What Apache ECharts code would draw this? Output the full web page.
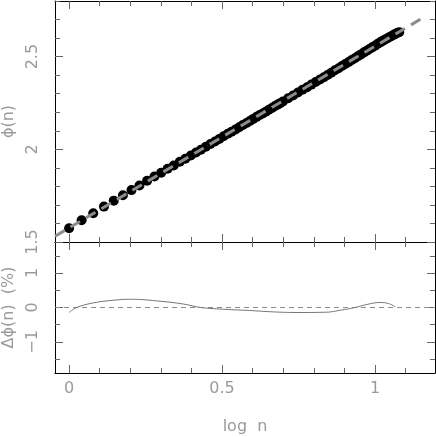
<!DOCTYPE html>
<html>
<head>
<meta charset="utf-8">
<script src="https://cdn.jsdelivr.net/npm/echarts@6/dist/echarts.min.js"></script>
<style>html,body{margin:0;padding:0;background:#fff;}#c{width:436px;height:436px;}</style>
</head>
<body>
<div id="c"></div>
<script>
// ---- data ----
const logN = [0.000,0.041,0.079,0.114,0.146,0.176,0.204,0.230,0.255,0.279,
  0.301,0.322,0.342,0.362,0.380,0.398,0.415,0.431,0.447,0.462,
  0.477,0.491,0.505,0.519,0.531,0.544,0.556,0.568,0.580,0.591,
  0.602,0.613,0.623,0.633,0.643,0.653,0.663,0.672,0.681,0.690,
  0.699,0.716,0.732,0.748,0.763,0.778,0.792,0.806,0.820,0.833,
  0.845,0.857,0.869,0.881,0.892,0.903,0.914,0.924,0.934,0.944,
  0.954,0.964,0.973,0.982,0.991,1.000,1.009,1.017,1.025,1.033,
  1.041,1.049,1.057,1.064,1.072,1.079];
const phi = [1.574,1.617,1.655,1.691,1.723,1.752,1.780,1.805,1.830,1.853,
  1.874,1.895,1.913,1.933,1.949,1.967,1.983,1.998,2.014,2.029,
  2.042,2.056,2.070,2.084,2.095,2.107,2.119,2.131,2.142,2.153,
  2.164,2.175,2.185,2.193,2.203,2.213,2.223,2.232,2.240,2.249,
  2.258,2.275,2.290,2.306,2.321,2.335,2.349,2.363,2.377,2.389,
  2.401,2.413,2.426,2.437,2.449,2.460,2.471,2.482,2.491,2.502,
  2.512,2.523,2.532,2.541,2.550,2.559,2.569,2.577,2.585,2.592,
  2.599,2.607,2.614,2.620,2.627,2.632];
const fitX = [-0.046, 1.163];
const fitY = [1.531, 2.716];
const resX = [0.000,0.025,0.080,0.145,0.200,0.300,0.374,0.430,0.504,0.590,0.668,0.745,0.842,0.886,0.935,0.973,1.016,1.044,1.066];
const resY = [-0.145,0.000,0.135,0.210,0.240,0.180,0.100,0.000,-0.050,-0.087,-0.127,-0.145,-0.136,-0.080,0.000,0.087,0.145,0.116,0.020];
const zeroX = [-0.046, 1.196];
const zeroY = [0, 0];
const xMajor = [0, 0.5, 1];
const xMinor = [0.1,0.2,0.3,0.4,0.6,0.7,0.8,0.9,1.1];
const yTopMajor = [1.5, 2, 2.5];
const yTopMinor = [1.6,1.7,1.8,1.9,2.1,2.2,2.3,2.4,2.6,2.7,2.8];
const yBotMajor = [-1, 0, 1];
const yBotMinor = [-1.5,-0.5,0.5,1.5];
const xLabel = 'log  n';
const yTopLabel = 'ϕ(n)';
const yBotLabel = 'Δϕ(n)  (%)';

// ---- chart ----
const FONT = 'DejaVu Sans';
const TXT = '#9a9a9a';
const TICK = '#666';
const X_RANGE = {min: -0.046, max: 1.196};
const Y_TOP = {min: 1.5, max: 2.8};
const Y_BOT = {min: -1.9, max: 1.9};

function axis(grid, pos, range, ticks, len, line, extra) {
  return Object.assign({
    type: 'value', gridIndex: grid, position: pos,
    min: range.min, max: range.max, scale: true,
    axisLine: {show: line, onZero: false, lineStyle: {color: '#000', width: 1}},
    axisTick: {show: true, inside: true, length: len, customValues: ticks, lineStyle: {color: TICK, width: 1}},
    axisLabel: {show: false},
    splitLine: {show: false}
  }, extra || {});
}

const xAxes = [];
const yAxes = [];
[[0, Y_TOP, yTopMajor, yTopMinor], [1, Y_BOT, yBotMajor, yBotMinor]].forEach(([g, yr, yMaj, yMin]) => {
  const bottomExtra = g === 1 ? {
    axisLabel: {show: true, customValues: xMajor, margin: 8, color: TXT, fontFamily: FONT, fontSize: 16,
      formatter: v => String(v)},
    name: xLabel, nameLocation: 'middle', nameGap: 46,
    nameTextStyle: {color: TXT, fontFamily: FONT, fontSize: 16}
  } : {};
  xAxes.push(axis(g, 'bottom', X_RANGE, xMajor, 8, true, bottomExtra));
  xAxes.push(axis(g, 'bottom', X_RANGE, xMinor, 5, false));
  xAxes.push(axis(g, 'top', X_RANGE, xMajor, 8, true));
  xAxes.push(axis(g, 'top', X_RANGE, xMinor, 5, false));
  const leftExtra = {
    axisLabel: {show: true, customValues: yMaj, rotate: 90, margin: 14, color: TXT, fontFamily: FONT, fontSize: 16,
      formatter: v => (v < 0 ? '\u2212' + Math.abs(v) : String(v))},
    name: g === 0 ? yTopLabel : yBotLabel, nameLocation: 'middle', nameRotate: 90, nameGap: 36,
    nameTextStyle: {color: TXT, fontFamily: FONT, fontSize: 16}
  };
  yAxes.push(axis(g, 'left', yr, yMaj, 8, true, leftExtra));
  yAxes.push(axis(g, 'left', yr, yMin, 5, false));
  yAxes.push(axis(g, 'right', yr, yMaj, 8, true));
  yAxes.push(axis(g, 'right', yr, yMin, 5, false));
});

const chart = echarts.init(document.getElementById('c'), null, {renderer: 'canvas'});
chart.setOption({
  animation: false,
  backgroundColor: '#fff',
  grid: [
    {left: 55, top: 1, width: 380, height: 241, containLabel: false, outerBoundsMode: 'none'},
    {left: 55, top: 242, width: 380, height: 131, containLabel: false, outerBoundsMode: 'none'}
  ],
  xAxis: xAxes,
  yAxis: yAxes,
  series: [
    {type: 'scatter', xAxisIndex: 0, yAxisIndex: 0, symbol: 'circle', symbolSize: 10,
      itemStyle: {color: '#000', opacity: 1}, data: logN.map((x, i) => [x, phi[i]])},
    {type: 'line', xAxisIndex: 0, yAxisIndex: 0, symbol: 'none', clip: true,
      lineStyle: {color: '#8c8c8c', width: 3, type: [11, 7]}, data: fitX.map((x, i) => [x, fitY[i]])},
    {type: 'line', xAxisIndex: 4, yAxisIndex: 4, symbol: 'none',
      lineStyle: {color: '#8c8c8c', width: 1, type: [5, 4]}, data: zeroX.map((x, i) => [x, zeroY[i]])},
    {type: 'line', xAxisIndex: 4, yAxisIndex: 4, symbol: 'none', smooth: 0.4,
      lineStyle: {color: '#777', width: 1}, data: resX.map((x, i) => [x, resY[i]])}
  ]
});
</script>
</body>
</html>
